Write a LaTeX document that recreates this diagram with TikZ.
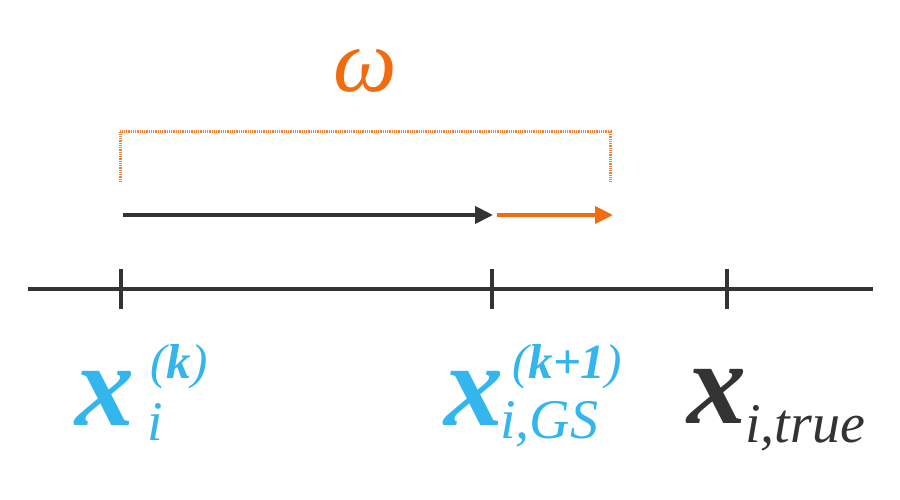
\documentclass[tikz,border=0pt]{standalone}
\usepackage{fontspec}
\setmainfont{Liberation Serif}
\usetikzlibrary{arrows.meta}
\definecolor{lblue}{HTML}{33B5EE}
\definecolor{dorange}{HTML}{F26B0F}
\definecolor{dgray}{HTML}{333333}
\tikzset{
  axisline/.style={draw=dgray,line width=4pt},
  tickline/.style={draw=dgray,line width=4.5pt},
  vecarrow/.style={line width=4pt,-{Triangle[length=18pt,width=17pt]}},
  bracketline/.style={draw=dorange!85,line width=3pt,dash pattern=on 1pt off 0.8pt},
  bigx/.style={inner sep=0pt,anchor=base west,font=\fontsize{118}{118}\selectfont\bfseries\itshape},
  subx/.style={inner sep=0pt,anchor=base west,font=\fontsize{56}{56}\selectfont\itshape},
  supx/.style={inner sep=0pt,anchor=base west,font=\fontsize{49}{49}\selectfont\itshape},
}
\begin{document}
\begin{tikzpicture}[x=1pt,y=-1pt]
\useasboundingbox (0,0) rectangle (900,500);
% axis
\coordinate (axL) at (28,289);
\coordinate (axR) at (873,289);
\draw[axisline] (axL) -- (axR);
\coordinate (t1a) at (121,269); \coordinate (t1b) at (121,309);
\coordinate (t2a) at (492,269); \coordinate (t2b) at (492,309);
\coordinate (t3a) at (727,269); \coordinate (t3b) at (727,309);
\draw[tickline] (t1a) -- (t1b);
\draw[tickline] (t2a) -- (t2b);
\draw[tickline] (t3a) -- (t3b);
% arrows
\coordinate (a1s) at (123,215);
\coordinate (a1e) at (493,215);
\coordinate (a2s) at (497,215);
\coordinate (a2e) at (613,215);
\draw[vecarrow,dgray] (a1s) -- (a1e);
\draw[vecarrow,dorange] (a2s) -- (a2e);
% bracket
\coordinate (b1) at (120,182);
\coordinate (b2) at (120,132);
\coordinate (b3) at (610,132);
\coordinate (b4) at (610,182);
\draw[bracketline] (b1) -- (b2) -- (b3) -- (b4);
\node[inner sep=0pt,anchor=base,text=dorange,font=\fontsize{90}{90}\selectfont\itshape] (omega) at (365,92) {ω};
% labels
\node[bigx,text=lblue] (x1) at (75,425) {x};
\node[subx,text=lblue] (x1sub) at (147,440) {i};
\node[supx,text=lblue] (x1sup) at (150,378) {(\textbf{k})};
\node[bigx,text=lblue] (x2) at (444,425) {x};
\node[subx,text=lblue] (x2sub) at (500,438) {i,GS};
\node[supx,text=lblue] (x2sup) at (512,378) {(\textbf{k+1})};
\node[bigx,text=dgray] (x3) at (687,423) {x};
\node[subx,text=dgray] (x3sub) at (745,442) {i,true};
\end{tikzpicture}
\end{document}
